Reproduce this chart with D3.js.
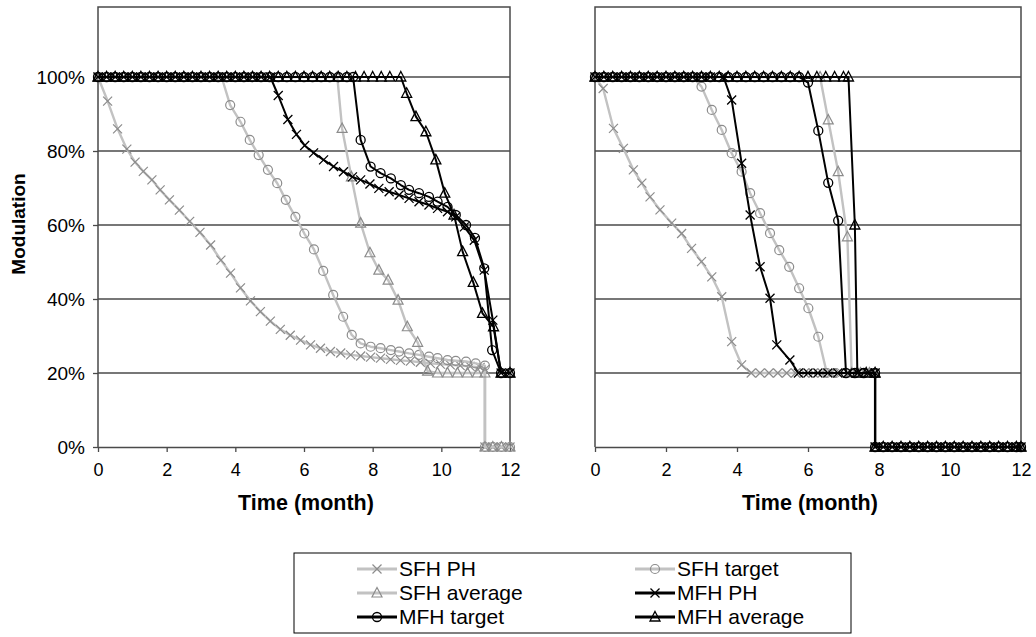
<!DOCTYPE html>
<html><head><meta charset="utf-8">
<script src="https://cdn.jsdelivr.net/npm/d3@7"></script>
<style>body{margin:0;background:#fff} svg{display:block} text{font-family:"Liberation Sans",Arial,sans-serif;fill:#000}</style>
</head><body><svg id="c" width="1036" height="637"></svg>
<script>
// ---------- data ----------
const yTicks = [0, 20, 40, 60, 80, 100];
const xTicks = [0, 2, 4, 6, 8, 10, 12];
const seriesNames = ["SFH PH", "SFH target", "SFH average", "MFH PH", "MFH target", "MFH average"];
const yAxisTitle = "Modulation";
const xAxisTitle = "Time (month)";

// left panel: [month, modulation %]
const L_SFH_PH = [[0,100],[0.28,93.5],[0.57,86],[0.84,80.5],[1.08,77],[1.32,74.5],[1.57,72.2],[1.81,69.5],[2.08,66.8],[2.37,64],[2.67,61],[2.97,58],[3.28,54.6],[3.58,50.5],[3.86,47],[4.15,43],[4.44,39.5],[4.73,36.6],[5.02,34],[5.31,31.8],[5.6,30.2],[5.9,28.9],[6.19,27.6],[6.48,26.7],[6.77,25.8],[7.07,25.4],[7.36,24.9],[7.65,24.6],[7.94,24.3],[8.23,24],[8.52,23.7],[8.81,23.4],[9.1,23.2],[9.39,22.9],[9.68,22.6],[9.97,22.4],[10.26,22.2],[10.55,22],[10.84,21.8],[11.13,21.5],[11.27,21],[11.27,0],[11.5,0],[11.75,0],[12,0]];
const L_SFH_target = [[0,100],[0.25,100],[0.5,100],[0.75,100],[1,100],[1.25,100],[1.5,100],[1.75,100],[2,100],[2.25,100],[2.5,100],[2.75,100],[3,100],[3.25,100],[3.6,100],[3.85,92.4],[4.15,87.9],[4.42,83],[4.68,78.9],[4.95,74.9],[5.22,71.3],[5.47,66.8],[5.75,62.2],[6.01,57.7],[6.29,53.4],[6.56,47.6],[6.85,41.1],[7.14,35.2],[7.39,30.3],[7.65,28],[7.94,27.1],[8.23,26.7],[8.53,26.2],[8.77,25.8],[9.06,25.3],[9.35,24.9],[9.64,24.4],[9.89,24],[10.18,23.5],[10.42,23.3],[10.72,23.1],[11,22.6],[11.27,22],[11.27,0],[11.5,0],[11.75,0],[12,0]];
const L_SFH_avg = [[0,100],[0.25,100],[0.5,100],[0.75,100],[1,100],[1.25,100],[1.5,100],[1.75,100],[2,100],[2.25,100],[2.5,100],[2.75,100],[3,100],[3.25,100],[3.5,100],[3.75,100],[4,100],[4.25,100],[4.5,100],[4.75,100],[5,100],[5.25,100],[5.5,100],[5.75,100],[6,100],[6.25,100],[6.5,100],[6.75,100],[6.97,100],[7.11,86.1],[7.38,73],[7.65,60.5],[7.92,52.5],[8.18,47.8],[8.45,45.1],[8.74,39.7],[9.01,32.5],[9.31,28.3],[9.6,20.5],[9.89,20],[10.18,20],[10.47,20],[10.76,20],[11.05,20],[11.27,20],[11.27,0],[11.5,0],[11.75,0],[12,0]];
const L_MFH_PH = [[0,100],[0.25,100],[0.5,100],[0.75,100],[1,100],[1.25,100],[1.5,100],[1.75,100],[2,100],[2.25,100],[2.5,100],[2.75,100],[3,100],[3.25,100],[3.5,100],[3.75,100],[4,100],[4.25,100],[4.5,100],[4.75,100],[5.02,100],[5.25,95],[5.53,88.5],[5.78,84.5],[6.02,81.5],[6.28,79.5],[6.57,77.6],[6.86,75.8],[7.15,74.4],[7.41,73],[7.65,72.2],[7.92,71.1],[8.18,69.9],[8.48,69],[8.77,68.1],[9.06,67.2],[9.35,66.3],[9.64,65.4],[9.89,64.5],[10.18,63.6],[10.42,62.2],[10.67,59.5],[10.96,55.9],[11.25,47.8],[11.5,34.3],[11.74,20],[12,20]];
const L_MFH_target = [[0,100],[0.25,100],[0.5,100],[0.75,100],[1,100],[1.25,100],[1.5,100],[1.75,100],[2,100],[2.25,100],[2.5,100],[2.75,100],[3,100],[3.25,100],[3.5,100],[3.75,100],[4,100],[4.25,100],[4.5,100],[4.75,100],[5,100],[5.25,100],[5.5,100],[5.75,100],[6,100],[6.25,100],[6.5,100],[6.75,100],[7,100],[7.25,100],[7.43,100],[7.65,83],[7.94,75.8],[8.23,74],[8.53,72.6],[8.82,70.8],[9.06,69.5],[9.35,68.6],[9.64,67.6],[9.89,66.3],[10.18,64.9],[10.42,62.7],[10.72,60],[10.98,56.5],[11.25,48.3],[11.48,26.2],[11.74,20],[12,20]];
const L_MFH_avg = [[0,100],[0.25,100],[0.5,100],[0.75,100],[1,100],[1.25,100],[1.5,100],[1.75,100],[2,100],[2.25,100],[2.5,100],[2.75,100],[3,100],[3.25,100],[3.5,100],[3.75,100],[4,100],[4.25,100],[4.5,100],[4.75,100],[5,100],[5.25,100],[5.5,100],[5.75,100],[6,100],[6.25,100],[6.5,100],[6.75,100],[7,100],[7.25,100],[7.5,100],[7.75,100],[8,100],[8.25,100],[8.5,100],[8.82,100],[8.99,95.6],[9.26,89.3],[9.55,85.2],[9.84,77.6],[10.1,68.6],[10.37,62.7],[10.62,52.8],[10.93,44.5],[11.2,36.1],[11.52,32.5],[11.74,20],[12,20]];

// right panel: [month, modulation %]
const R_SFH_PH = [[0,100],[0.23,96.9],[0.52,86.1],[0.8,80.7],[1.08,74.9],[1.32,71.3],[1.55,67.6],[1.83,64.1],[2.16,60.5],[2.44,57.7],[2.72,53.7],[3,50.1],[3.29,46],[3.57,40.6],[3.85,28.5],[4.13,22.2],[4.4,20],[4.65,20],[4.9,20],[5.15,20],[5.4,20],[5.65,20],[5.9,20],[6.15,20],[6.4,20],[6.65,20],[6.9,20],[7.15,20],[7.4,20],[7.65,20],[7.89,20],[7.89,0],[8.12,0],[8.37,0],[8.62,0],[8.87,0],[9.12,0],[9.37,0],[9.62,0],[9.87,0],[10.12,0],[10.37,0],[10.62,0],[10.87,0],[11.12,0],[11.37,0],[11.62,0],[11.87,0],[12,0]];
const R_SFH_target = [[0,100],[0.25,100],[0.5,100],[0.75,100],[1,100],[1.25,100],[1.5,100],[1.75,100],[2,100],[2.25,100],[2.5,100],[2.75,100],[3,97.4],[3.29,91.1],[3.57,85.7],[3.85,79.4],[4.13,74.4],[4.37,68.6],[4.65,63.2],[4.93,57.8],[5.19,53.2],[5.47,48.7],[5.75,42.9],[6.01,37.5],[6.29,29.8],[6.53,20],[6.78,20],[7.03,20],[7.28,20],[7.53,20],[7.78,20],[7.89,20],[7.89,0],[8.12,0],[8.37,0],[8.62,0],[8.87,0],[9.12,0],[9.37,0],[9.62,0],[9.87,0],[10.12,0],[10.37,0],[10.62,0],[10.87,0],[11.12,0],[11.37,0],[11.62,0],[11.87,0],[12,0]];
const R_SFH_avg = [[0,100],[0.25,100],[0.5,100],[0.75,100],[1,100],[1.25,100],[1.5,100],[1.75,100],[2,100],[2.25,100],[2.5,100],[2.75,100],[3,100],[3.25,100],[3.5,100],[3.75,100],[4,100],[4.25,100],[4.5,100],[4.75,100],[5,100],[5.25,100],[5.5,100],[5.75,100],[6,100],[6.34,100],[6.57,88.4],[6.85,74.4],[7.11,56.8],[7.23,20],[7.48,20],[7.73,20],[7.89,20],[7.89,0],[8.12,0],[8.37,0],[8.62,0],[8.87,0],[9.12,0],[9.37,0],[9.62,0],[9.87,0],[10.12,0],[10.37,0],[10.62,0],[10.87,0],[11.12,0],[11.37,0],[11.62,0],[11.87,0],[12,0]];
const R_MFH_PH = [[0,100],[0.25,100],[0.5,100],[0.75,100],[1,100],[1.25,100],[1.5,100],[1.75,100],[2,100],[2.25,100],[2.5,100],[2.75,100],[3,100],[3.25,100],[3.62,100],[3.85,93.8],[4.13,76.7],[4.37,62.7],[4.65,48.7],[4.93,40.2],[5.12,27.6],[5.49,23.5],[5.73,20],[6,20],[6.28,20],[6.56,20],[6.84,20],[7.12,20],[7.4,20],[7.68,20],[7.89,20],[7.89,0],[8.12,0],[8.37,0],[8.62,0],[8.87,0],[9.12,0],[9.37,0],[9.62,0],[9.87,0],[10.12,0],[10.37,0],[10.62,0],[10.87,0],[11.12,0],[11.37,0],[11.62,0],[11.87,0],[12,0]];
const R_MFH_target = [[0,100],[0.25,100],[0.5,100],[0.75,100],[1,100],[1.25,100],[1.5,100],[1.75,100],[2,100],[2.25,100],[2.5,100],[2.75,100],[3,100],[3.25,100],[3.5,100],[3.75,100],[4,100],[4.25,100],[4.5,100],[4.75,100],[5,100],[5.25,100],[5.5,100],[5.75,100],[6,98.5],[6.29,85.5],[6.57,71.4],[6.85,61.2],[7.07,20],[7.32,20],[7.57,20],[7.89,20],[7.89,0],[8.12,0],[8.37,0],[8.62,0],[8.87,0],[9.12,0],[9.37,0],[9.62,0],[9.87,0],[10.12,0],[10.37,0],[10.62,0],[10.87,0],[11.12,0],[11.37,0],[11.62,0],[11.87,0],[12,0]];
const R_MFH_avg = [[0,100],[0.25,100],[0.5,100],[0.75,100],[1,100],[1.25,100],[1.5,100],[1.75,100],[2,100],[2.25,100],[2.5,100],[2.75,100],[3,100],[3.25,100],[3.5,100],[3.75,100],[4,100],[4.25,100],[4.5,100],[4.75,100],[5,100],[5.25,100],[5.5,100],[5.75,100],[6,100],[6.25,100],[6.5,100],[6.75,100],[7,100],[7.14,100],[7.32,60],[7.39,20],[7.64,20],[7.89,20],[7.89,0],[8.12,0],[8.37,0],[8.62,0],[8.87,0],[9.12,0],[9.37,0],[9.62,0],[9.87,0],[10.12,0],[10.37,0],[10.62,0],[10.87,0],[11.12,0],[11.37,0],[11.62,0],[11.87,0],[12,0]];

// ---------- styles ----------
const styles = [
  {line:"#c2c2c2", mark:"#8c8c8c", lw:2.4, mw:1.2, shape:"x"},
  {line:"#c2c2c2", mark:"#8c8c8c", lw:2.4, mw:1.2, shape:"o"},
  {line:"#c2c2c2", mark:"#8c8c8c", lw:2.4, mw:1.2, shape:"t"},
  {line:"#000", mark:"#000", lw:2, mw:1.3, shape:"x"},
  {line:"#000", mark:"#000", lw:2, mw:1.3, shape:"o"},
  {line:"#000", mark:"#000", lw:2, mw:1.3, shape:"t"}
];
const shapePath = {
  x: "M-4.5,-4.5L4.5,4.5M-4.5,4.5L4.5,-4.5",
  o: "M4.5,0A4.5,4.5 0 1,1 -4.5,0A4.5,4.5 0 1,1 4.5,0Z",
  t: "M0,-5.5L5,4L-5,4Z"
};

const svg = d3.select("#c");
const y = d3.scaleLinear().domain([0, 100]).range([447, 77]);
const frameTop = 7;
const gridColor = "#4a4a4a";
const FONT = '"Liberation Sans",Arial,sans-serif';

function drawPanel(x0, x1, data, withYAxis) {
  const x = d3.scaleLinear().domain([0, 12]).range([x0, x1]);
  const g = svg.append("g");
  g.selectAll("line.grid").data(yTicks.filter(v => v > 0)).join("line")
    .attr("x1", x0).attr("x2", x1).attr("y1", d => y(d)).attr("y2", d => y(d))
    .attr("stroke", gridColor).attr("stroke-width", 1.3);
  g.append("path").attr("d", `M${x0},${y(0)}V${frameTop}H${x1}V${y(0)}`)
    .attr("fill", "none").attr("stroke", gridColor).attr("stroke-width", 1.5);
  const ax = g.append("g").attr("transform", `translate(0,${y(0)})`)
    .call(d3.axisBottom(x).tickValues(xTicks).tickSize(5).tickSizeOuter(0).tickPadding(11));
  ax.select(".domain").attr("stroke", gridColor).attr("stroke-width", 1.5);
  ax.selectAll(".tick line").attr("stroke", gridColor).attr("stroke-width", 1.3);
  ax.selectAll(".tick text").attr("font-size", 18).attr("font-family", FONT);
  g.append("text").attr("x", (x0 + x1) / 2 + 2).attr("y", 510).attr("text-anchor", "middle")
    .attr("font-size", 21.5).attr("font-weight", "bold").text(xAxisTitle);
  if (withYAxis) {
    const ay = g.append("g").attr("transform", `translate(${x0},0)`)
      .call(d3.axisLeft(y).tickValues(yTicks).tickFormat(d => d + "%").tickSize(5).tickSizeOuter(0).tickPadding(8));
    ay.select(".domain").remove();
    ay.selectAll(".tick line").attr("stroke", gridColor).attr("stroke-width", 1.3);
    ay.selectAll(".tick text").attr("font-size", 19).attr("font-family", FONT);
  }
  const line = d3.line().x(d => x(d[0])).y(d => y(d[1]));
  data.forEach((s, i) => {
    const st = styles[i];
    const sg = g.append("g");
    sg.append("path").datum(s).attr("d", line).attr("fill", "none")
      .attr("stroke", st.line).attr("stroke-width", st.lw).attr("stroke-linejoin", "round");
    sg.selectAll("path.m").data(s).join("path").attr("class", "m")
      .attr("transform", d => `translate(${x(d[0])},${y(d[1])})`)
      .attr("d", shapePath[st.shape]).attr("fill", "none")
      .attr("stroke", st.mark).attr("stroke-width", st.mw);
  });
}

drawPanel(98, 510, [L_SFH_PH, L_SFH_target, L_SFH_avg, L_MFH_PH, L_MFH_target, L_MFH_avg], true);
drawPanel(595, 1021, [R_SFH_PH, R_SFH_target, R_SFH_avg, R_MFH_PH, R_MFH_target, R_MFH_avg], false);

svg.append("text").attr("transform", "translate(25,224) rotate(-90)")
  .attr("text-anchor", "middle").attr("font-size", 19).attr("font-weight", "bold").text(yAxisTitle);

// legend
const lg = svg.append("g");
lg.append("rect").attr("x", 294).attr("y", 553).attr("width", 557).attr("height", 80)
  .attr("fill", "#fff").attr("stroke", "#000").attr("stroke-width", 1);
const legendPos = [[357,569],[635,569],[357,593],[635,593],[357,617],[635,617]];
seriesNames.forEach((name, i) => {
  const st = styles[i];
  const [lx, ly] = legendPos[i];
  lg.append("line").attr("x1", lx).attr("x2", lx + 40).attr("y1", ly).attr("y2", ly)
    .attr("stroke", st.line).attr("stroke-width", st.lw + 0.8);
  lg.append("path").attr("transform", `translate(${lx + 20},${ly})`).attr("d", shapePath[st.shape])
    .attr("fill", "none").attr("stroke", st.mark).attr("stroke-width", st.mw);
  lg.append("text").attr("x", lx + 42).attr("y", ly).attr("dy", "0.35em")
    .attr("font-size", 21).text(name);
});
</script>
</body></html>
